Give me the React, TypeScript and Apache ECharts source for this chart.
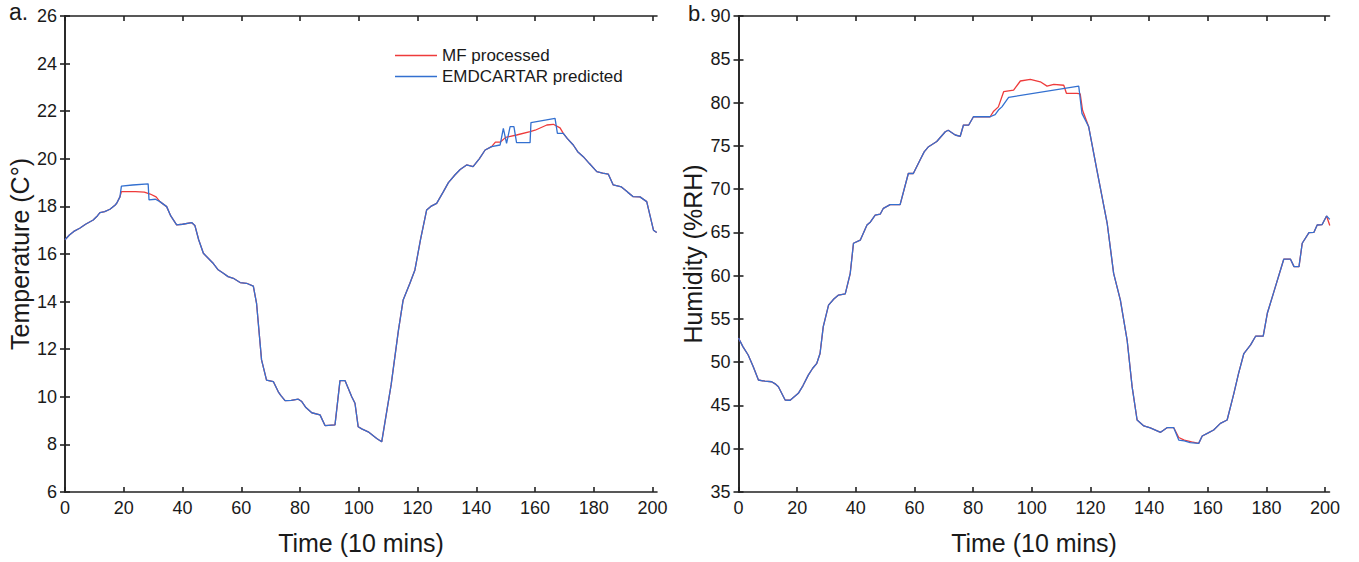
import React, { useEffect, useRef } from "react";
import * as echarts from "echarts";

// ---------- data ----------
const xTicks = [0, 20, 40, 60, 80, 100, 120, 140, 160, 180, 200];
const tempTicks = [6, 8, 10, 12, 14, 16, 18, 20, 22, 24, 26];
const humTicks = [35, 40, 45, 50, 55, 60, 65, 70, 75, 80, 85, 90];

const tempPredTime = [0, 1.5, 3, 5, 7, 9.6, 11, 11.9, 13.5, 15.3, 17, 17.6, 18.7, 19.2, 23, 28.3, 28.6, 30.8, 32.3, 34.6, 36, 38, 40, 43.1, 44.2, 45.5, 47.1, 48.5, 50.5, 52, 53.9, 55.5, 57.3, 59.6, 61.8, 64.1, 65.2, 66.9, 68.6, 70.9, 72.6, 73.5, 74.9, 77, 79.4, 80.6, 82, 84, 86.8, 88.5, 91.9, 93.6, 95.3, 97.6, 98.7, 99.8, 101, 103.2, 106.1, 107.8, 111, 113.5, 115.1, 117.4, 119.1, 121, 123.1, 124.5, 126.5, 128.8, 130.5, 132.7, 134.5, 136.7, 138.9, 141, 143, 145.2, 148.1, 149.2, 150.3, 151.5, 152.8, 153.7, 158.3, 158.6, 166.8, 167.6, 169.6, 171, 173, 174.5, 176.4, 178.5, 181, 183, 184.9, 186.6, 189.4, 191.5, 193.4, 195.7, 198, 200.3, 201.4];
const tempPredValue = [16.6, 16.8, 16.95, 17.08, 17.25, 17.43, 17.6, 17.74, 17.78, 17.88, 18.05, 18.13, 18.4, 18.85, 18.9, 18.95, 18.27, 18.3, 18.2, 17.99, 17.6, 17.22, 17.25, 17.32, 17.2, 16.6, 16.03, 15.85, 15.6, 15.35, 15.19, 15.05, 14.98, 14.8, 14.77, 14.65, 13.93, 11.55, 10.7, 10.64, 10.21, 10.05, 9.84, 9.85, 9.9, 9.8, 9.55, 9.33, 9.24, 8.79, 8.82, 10.68, 10.68, 10.0, 9.73, 8.74, 8.65, 8.53, 8.25, 8.11, 10.5, 12.8, 14.07, 14.77, 15.33, 16.6, 17.85, 18.0, 18.13, 18.62, 19.0, 19.32, 19.55, 19.74, 19.67, 20.0, 20.37, 20.51, 20.58, 21.28, 20.65, 21.35, 21.35, 20.68, 20.68, 21.52, 21.7, 21.07, 21.07, 20.85, 20.58, 20.3, 20.09, 19.8, 19.46, 19.4, 19.36, 18.9, 18.82, 18.6, 18.41, 18.4, 18.2, 17.0, 16.9];

const tempMFTime = [0, 1.5, 3, 5, 7, 9.6, 11, 11.9, 13.5, 15.3, 17, 17.6, 18.7, 19.2, 24, 27, 29, 31, 32.3, 34.6, 36, 38, 40, 43.1, 44.2, 45.5, 47.1, 48.5, 50.5, 52, 53.9, 55.5, 57.3, 59.6, 61.8, 64.1, 65.2, 66.9, 68.6, 70.9, 72.6, 73.5, 74.9, 77, 79.4, 80.6, 82, 84, 86.8, 88.5, 91.9, 93.6, 95.3, 97.6, 98.7, 99.8, 101, 103.2, 106.1, 107.8, 111, 113.5, 115.1, 117.4, 119.1, 121, 123.1, 124.5, 126.5, 128.8, 130.5, 132.7, 134.5, 136.7, 138.9, 141, 143, 145.2, 146.5, 148.1, 150, 153.7, 158.3, 160, 164, 166.2, 168.5, 169.6, 171, 173, 174.5, 176.4, 178.5, 181, 183, 184.9, 186.6, 189.4, 191.5, 193.4, 195.7, 198, 200.3, 201.4];
const tempMFValue = [16.6, 16.8, 16.95, 17.08, 17.25, 17.43, 17.6, 17.74, 17.78, 17.88, 18.05, 18.13, 18.4, 18.62, 18.62, 18.6, 18.52, 18.4, 18.2, 17.99, 17.6, 17.22, 17.25, 17.32, 17.2, 16.6, 16.03, 15.85, 15.6, 15.35, 15.19, 15.05, 14.98, 14.8, 14.77, 14.65, 13.93, 11.55, 10.7, 10.64, 10.21, 10.05, 9.84, 9.85, 9.9, 9.8, 9.55, 9.33, 9.24, 8.79, 8.82, 10.68, 10.68, 10.0, 9.73, 8.74, 8.65, 8.53, 8.25, 8.11, 10.5, 12.8, 14.07, 14.77, 15.33, 16.6, 17.85, 18.0, 18.13, 18.62, 19.0, 19.32, 19.55, 19.74, 19.67, 20.0, 20.37, 20.51, 20.7, 20.7, 20.9, 21.0, 21.14, 21.2, 21.42, 21.45, 21.3, 21.07, 20.85, 20.58, 20.3, 20.09, 19.8, 19.46, 19.4, 19.36, 18.9, 18.82, 18.6, 18.41, 18.4, 18.2, 17.0, 16.9];

const humPredTime = [0, 1.5, 3.3, 5, 6.8, 9, 11.3, 12.5, 13.6, 15.9, 17.6, 19, 20.4, 22, 23.8, 25.3, 26.7, 27.8, 28.9, 30.7, 32.5, 34.1, 36.4, 38.1, 39.2, 41.5, 43.8, 45, 46.6, 48.3, 49.4, 51.7, 55.1, 57.9, 59.6, 61.9, 63.3, 64.8, 67.6, 70.5, 71.5, 73.9, 75.6, 76.7, 78.5, 80.1, 85.8, 87.5, 88.8, 89.8, 92.1, 116, 117.1, 119.4, 122.2, 125.7, 127.9, 130.2, 132.5, 134.2, 135.9, 138.2, 140.4, 143.9, 146.1, 148.4, 150.1, 152, 154, 156.9, 158.1, 160, 162, 164.3, 166.6, 168.9, 170.5, 172.3, 174.6, 176.3, 178.9, 180.3, 182.5, 185.9, 188.2, 189.4, 191.1, 192.2, 194.5, 196.2, 197.3, 199, 200.5, 201.6];
const humPredValue = [52.8, 51.8, 50.83, 49.5, 47.94, 47.8, 47.74, 47.5, 47.17, 45.63, 45.6, 46.0, 46.4, 47.3, 48.5, 49.3, 49.87, 51, 54.1, 56.6, 57.3, 57.76, 57.9, 60.27, 63.74, 64.1, 65.85, 66.2, 67.0, 67.1, 67.78, 68.2, 68.2, 71.8, 71.8, 73.36, 74.3, 74.9, 75.5, 76.63, 76.8, 76.25, 76.1, 77.4, 77.4, 78.36, 78.36, 78.6, 79.2, 79.5, 80.6, 81.9, 78.75, 77.2, 72.2, 66.05, 60.27, 57.18, 52.56, 47.17, 43.32, 42.63, 42.4, 41.9, 42.43, 42.43, 41.0, 40.9, 40.7, 40.62, 41.47, 41.8, 42.16, 42.93, 43.32, 46.4, 48.7, 51.0, 52.0, 53.0, 53.0, 55.65, 58.1, 61.9, 61.9, 61.04, 61.04, 63.74, 64.96, 65.0, 65.85, 65.9, 66.9, 66.5];

const humMFTime = [0, 1.5, 3.3, 5, 6.8, 9, 11.3, 12.5, 13.6, 15.9, 17.6, 19, 20.4, 22, 23.8, 25.3, 26.7, 27.8, 28.9, 30.7, 32.5, 34.1, 36.4, 38.1, 39.2, 41.5, 43.8, 45, 46.6, 48.3, 49.4, 51.7, 55.1, 57.9, 59.6, 61.9, 63.3, 64.8, 67.6, 70.5, 71.5, 73.9, 75.6, 76.7, 78.5, 80.1, 85.8, 87, 88.6, 90.4, 93.8, 96.1, 99.5, 102.9, 105.2, 107.5, 110.9, 111.8, 115.4, 116.5, 117.3, 119.4, 122.2, 125.7, 127.9, 130.2, 132.5, 134.2, 135.9, 138.2, 140.4, 143.9, 146.1, 148.4, 150.1, 152, 154.5, 156.9, 158.1, 160, 162, 164.3, 166.6, 168.9, 170.5, 172.3, 174.6, 176.3, 178.9, 180.3, 182.5, 185.9, 188.2, 189.4, 191.1, 192.2, 194.5, 196.2, 197.3, 199, 200.5, 201.6];
const humMFValue = [52.8, 51.8, 50.83, 49.5, 47.94, 47.8, 47.74, 47.5, 47.17, 45.63, 45.6, 46.0, 46.4, 47.3, 48.5, 49.3, 49.87, 51, 54.1, 56.6, 57.3, 57.76, 57.9, 60.27, 63.74, 64.1, 65.85, 66.2, 67.0, 67.1, 67.78, 68.2, 68.2, 71.8, 71.8, 73.36, 74.3, 74.9, 75.5, 76.63, 76.8, 76.25, 76.1, 77.4, 77.4, 78.36, 78.36, 79.0, 79.5, 81.25, 81.43, 82.49, 82.68, 82.4, 81.9, 82.1, 82.0, 81.07, 81.07, 81.0, 79.1, 77.2, 72.2, 66.05, 60.27, 57.18, 52.56, 47.17, 43.32, 42.63, 42.4, 41.9, 42.43, 42.43, 41.3, 41.0, 40.8, 40.62, 41.47, 41.8, 42.16, 42.93, 43.32, 46.4, 48.7, 51.0, 52.0, 53.0, 53.0, 55.65, 58.1, 61.9, 61.9, 61.04, 61.04, 63.74, 64.96, 65.0, 65.85, 65.9, 66.9, 65.8];

const seriesNames = ["MF processed", "EMDCARTAR predicted"];
const panelLetters = ["a.", "b."];
const xTitle = "Time (10 mins)";
const yTitles = ["Temperature (C°)", "Humidity (%RH)"];

// ---------- styles ----------
const FONT = "'Liberation Sans', Arial, Helvetica, sans-serif";
const RED = "#ee3b3b";
const BLUE = "#3370d0";
const AXIS = "#222";

const zip = (t: number[], v: number[]) => t.map((x, i) => [x, v[i]]);

function App() {
  const ref = useRef<HTMLDivElement>(null);

  useEffect(() => {
    if (!ref.current) return;
    const chart = echarts.init(ref.current, null, { renderer: "svg" });

    const grids = [
      { left: 65, top: 16, width: 592, height: 476 },
      { left: 738.5, top: 16, width: 591, height: 476 },
    ];
    const yRanges = [
      { min: 6, max: 26, interval: 2, ticks: tempTicks },
      { min: 35, max: 90, interval: 5, ticks: humTicks },
    ];

    const axisLine = { show: true, lineStyle: { color: AXIS, width: 1.6 } };
    const tick = (vals: number[]) => ({
      show: true,
      inside: true,
      length: 5,
      customValues: vals,
      lineStyle: { color: AXIS, width: 1.6 },
    });

    const xAxis: any[] = [];
    const yAxis: any[] = [];
    grids.forEach((_, g) => {
      xAxis.push({
        type: "value",
        gridIndex: g,
        position: "bottom",
        min: 0,
        max: 201.5,
        interval: 20,
        axisLine,
        axisTick: tick(xTicks),
        axisLabel: {
          customValues: xTicks,
          color: "#1a1a1a",
          fontFamily: FONT,
          fontSize: 18,
          margin: 7,
        },
        splitLine: { show: false },
        name: xTitle,
        nameLocation: "middle",
        nameGap: 38,
        nameTextStyle: { fontFamily: FONT, fontSize: 25, color: "#1a1a1a" },
      });
      xAxis.push({
        type: "value",
        gridIndex: g,
        position: "top",
        min: 0,
        max: 201.5,
        interval: 20,
        axisLine,
        axisTick: tick(xTicks),
        axisLabel: { show: false },
        splitLine: { show: false },
      });
      const yr = yRanges[g];
      yAxis.push({
        type: "value",
        gridIndex: g,
        position: "left",
        min: yr.min,
        max: yr.max,
        interval: yr.interval,
        axisLine,
        axisTick: tick(yr.ticks),
        axisLabel: {
          customValues: yr.ticks,
          color: "#1a1a1a",
          fontFamily: FONT,
          fontSize: 18,
          margin: 8,
        },
        splitLine: { show: false },
        name: yTitles[g],
        nameLocation: "middle",
        nameGap: 33,
        nameTextStyle: { fontFamily: FONT, fontSize: 25, color: "#1a1a1a" },
      });
      yAxis.push({
        type: "value",
        gridIndex: g,
        position: "right",
        min: yr.min,
        max: yr.max,
        interval: yr.interval,
        axisLine,
        axisTick: tick(yr.ticks),
        axisLabel: { show: false },
        splitLine: { show: false },
      });
    });

    const lineSeries = (name: string, data: number[][], color: string, g: number) => ({
      type: "line",
      name,
      xAxisIndex: g * 2,
      yAxisIndex: g * 2,
      data,
      symbol: "none",
      lineStyle: { color, width: 1.3 },
      itemStyle: { color },
      silent: true,
    });

    chart.setOption({
      animation: false,
      backgroundColor: "#ffffff",
      grid: grids.map((g) => ({ ...g, containLabel: false, show: false })),
      xAxis,
      yAxis,
      legend: {
        orient: "vertical",
        left: 390,
        top: 42,
        icon: "rect",
        itemWidth: 42,
        itemHeight: 1.5,
        itemGap: 4,
        data: seriesNames,
        textStyle: { fontFamily: FONT, fontSize: 17, color: "#1a1a1a", lineHeight: 17 },
      },
      series: [
        lineSeries(seriesNames[0], zip(tempMFTime, tempMFValue), RED, 0),
        lineSeries(seriesNames[1], zip(tempPredTime, tempPredValue), BLUE, 0),
        lineSeries(seriesNames[0], zip(humMFTime, humMFValue), RED, 1),
        lineSeries(seriesNames[1], zip(humPredTime, humPredValue), BLUE, 1),
      ],
      graphic: [
        {
          type: "text",
          left: 9,
          top: 0,
          style: { text: panelLetters[0], font: `23px ${FONT}`, fill: "#1a1a1a" },
        },
        {
          type: "text",
          left: 688,
          top: 2,
          style: { text: panelLetters[1], font: `22px ${FONT}`, fill: "#1a1a1a" },
        },
      ],
    });

    return () => chart.dispose();
  }, []);

  return (
    <div
      ref={ref}
      style={{ position: "absolute", left: 0, top: 0, width: 1359, height: 562, background: "#fff" }}
    />
  );
}

export default App;
